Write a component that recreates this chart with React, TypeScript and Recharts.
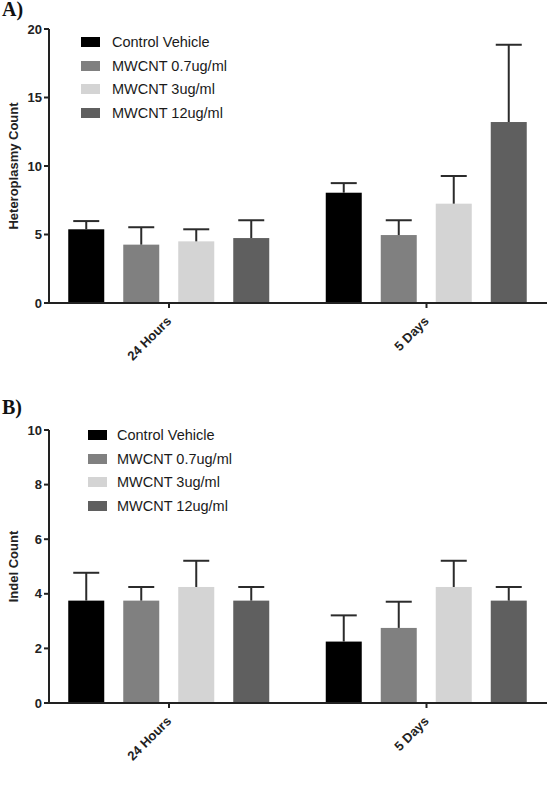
import React from 'react';
import { BarChart, Bar, XAxis, YAxis, Legend, Label } from 'recharts';

const groups = ['24 Hours', '5 Days'];
const seriesNames = ['Control Vehicle', 'MWCNT 0.7ug/ml', 'MWCNT 3ug/ml', 'MWCNT 12ug/ml'];
const seriesColors = ['#000000', '#808080', '#d4d4d4', '#5f5f5f'];

// Heteroplasmy count, means per treatment [24 Hours, 5 Days]
const heteroControl = [5.38, 8.05];
const hetero07 = [4.26, 4.96];
const hetero3 = [4.5, 7.25];
const hetero12 = [4.74, 13.21];
// upper error bar length
const heteroControlErr = [0.6, 0.7];
const hetero07Err = [1.27, 1.08];
const hetero3Err = [0.88, 2.02];
const hetero12Err = [1.3, 5.64];
const heteroTicks = [0, 5, 10, 15, 20];

// Indel count
const indelControl = [3.75, 2.25];
const indel07 = [3.75, 2.75];
const indel3 = [4.25, 4.25];
const indel12 = [3.75, 3.75];
const indelControlErr = [1.02, 0.96];
const indel07Err = [0.5, 0.96];
const indel3Err = [0.96, 0.96];
const indel12Err = [0.5, 0.5];
const indelTicks = [0, 2, 4, 6, 8, 10];

const buildRows = (means: number[][], errs: number[][]) =>
  groups.map((g, i) => {
    const row: any = { group: g };
    means.forEach((m, k) => {
      row[`s${k}`] = m[i];
      row[`e${k}`] = errs[k][i];
    });
    return row;
  });

const heteroData = buildRows(
  [heteroControl, hetero07, hetero3, hetero12],
  [heteroControlErr, hetero07Err, hetero3Err, hetero12Err]
);
const indelData = buildRows(
  [indelControl, indel07, indel3, indel12],
  [indelControlErr, indel07Err, indel3Err, indel12Err]
);

const INK = '#222222';
const SANS = 'Arial, "Liberation Sans", Helvetica, sans-serif';

// bar rect plus a one-sided (upward) error bar with cap
const barWithError = (errKey: string) => (props: any) => {
  const { x, y, width, height, fill, payload, value } = props;
  const v = Array.isArray(value) ? value[1] - value[0] : value;
  const pxPerUnit = v ? height / v : 0;
  const top = y - payload[errKey] * pxPerUnit;
  const cx = x + width / 2;
  return (
    <g>
      <rect x={x} y={y} width={width} height={height} fill={fill} />
      <line x1={cx} y1={y} x2={cx} y2={top} stroke="#2b2b2b" strokeWidth={2} />
      <line x1={cx - 13} y1={top} x2={cx + 13} y2={top} stroke="#2b2b2b" strokeWidth={2} />
    </g>
  );
};

const AngledTick = ({ x, y, payload }: any) => {
  const ax = x + 3;
  const ay = y + 12;
  return (
    <text
      x={ax}
      y={ay}
      textAnchor="end"
      transform={`rotate(-45, ${ax}, ${ay})`}
      fill={INK}
      fontFamily={SANS}
      fontSize={13}
      fontWeight="bold"
    >
      {payload.value}
    </text>
  );
};

const yLabel = (text: string) => ({ viewBox }: any) => {
  const cx = 13;
  const cy = viewBox.y + viewBox.height / 2;
  return (
    <text
      x={cx}
      y={cy}
      transform={`rotate(-90, ${cx}, ${cy})`}
      textAnchor="middle"
      dominantBaseline="central"
      fill={INK}
      fontFamily={SANS}
      fontSize={13}
      fontWeight="bold"
    >
      {text}
    </text>
  );
};

// legend keeps the series order as listed
const LegendBox = ({ gap }: any) => (
  <div style={{ fontFamily: SANS }}>
    {seriesNames.map((name, i) => (
      <div key={name} style={{ display: 'flex', alignItems: 'center', height: 23.8 }}>
        <span style={{ width: 19, height: 10, background: seriesColors[i], display: 'inline-block' }} />
        <span style={{ marginLeft: gap, fontSize: 14.5, color: '#1a1a1a', whiteSpace: 'nowrap' }}>{name}</span>
      </div>
    ))}
  </div>
);

type PanelProps = {
  data: any[];
  height: number;
  marginTop: number;
  marginBottom: number;
  xAxisHeight: number;
  domainMax: number;
  ticks: number[];
  yTitle: string;
  legendTop: number;
  legendLeft: number;
  legendGap: number;
};

function Panel(p: PanelProps) {
  return (
    <BarChart
      width={555}
      height={p.height}
      data={p.data}
      margin={{ top: p.marginTop, right: 8, bottom: p.marginBottom, left: 0 }}
      barSize={36}
      barGap={19}
    >
      <XAxis
        dataKey="group"
        interval={0}
        height={p.xAxisHeight}
        padding={{ left: -8.75, right: -8.25 }}
        axisLine={{ stroke: INK, strokeWidth: 2 }}
        tickLine={{ stroke: INK, strokeWidth: 2 }}
        tickSize={5}
        tick={<AngledTick />}
      />
      <YAxis
        width={49}
        domain={[0, p.domainMax]}
        ticks={p.ticks}
        axisLine={{ stroke: INK, strokeWidth: 2 }}
        tickLine={{ stroke: INK, strokeWidth: 2 }}
        tickSize={5}
        tickMargin={2}
        tick={{ fill: INK, fontSize: 13, fontWeight: 'bold', fontFamily: SANS }}
      >
        <Label content={yLabel(p.yTitle)} />
      </YAxis>
      <Legend
        layout="vertical"
        align="center"
        verticalAlign="middle"
        wrapperStyle={{ top: p.legendTop, left: p.legendLeft, width: 'auto' }}
        content={<LegendBox gap={p.legendGap} />}
      />
      {seriesNames.map((name, k) => (
        <Bar
          key={name}
          dataKey={`s${k}`}
          name={name}
          fill={seriesColors[k]}
          shape={barWithError(`e${k}`)}
          isAnimationActive={false}
        />
      ))}
    </BarChart>
  );
}

const panelTitle: React.CSSProperties = {
  position: 'absolute',
  left: 2,
  fontFamily: '"Times New Roman", "Liberation Serif", serif',
  fontWeight: 'bold',
  fontSize: 20,
  lineHeight: '16px',
  color: '#111',
};

export default function App() {
  return (
    <div
      style={{
        position: 'absolute',
        left: 0,
        top: 0,
        width: 555,
        height: 794,
        background: '#fff',
        fontFamily: SANS,
      }}
    >
      <div style={{ position: 'absolute', left: 0, top: 0 }}>
        <Panel
          data={heteroData}
          height={380}
          marginTop={29}
          marginBottom={17}
          xAxisHeight={60}
          domainMax={20}
          ticks={heteroTicks}
          yTitle="Heteroplasmy Count"
          legendTop={30}
          legendLeft={81}
          legendGap={12}
        />
      </div>
      <div style={{ position: 'absolute', left: 0, top: 380 }}>
        <Panel
          data={indelData}
          height={414}
          marginTop={50}
          marginBottom={21}
          xAxisHeight={70}
          domainMax={10}
          ticks={indelTicks}
          yTitle="Indel Count"
          legendTop={43}
          legendLeft={88}
          legendGap={10}
        />
      </div>
      <div style={{ ...panelTitle, top: 1 }}>A)</div>
      <div style={{ ...panelTitle, top: 399 }}>B)</div>
    </div>
  );
}
